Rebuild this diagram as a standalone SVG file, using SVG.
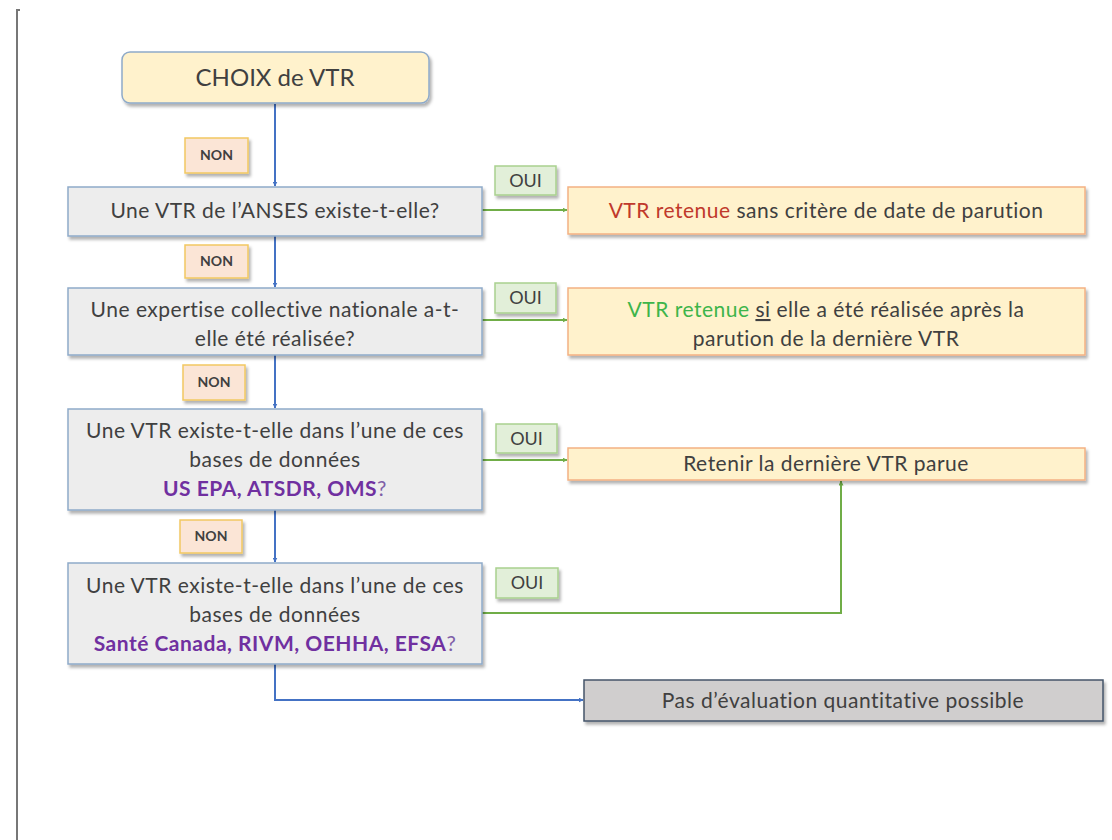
<svg xmlns="http://www.w3.org/2000/svg" width="1112" height="840" viewBox="0 0 1112 840">
<defs>
<filter id="sh" x="-5%" y="-10%" width="115%" height="140%">
<feDropShadow dx="2" dy="3" stdDeviation="1.5" flood-color="#000" flood-opacity="0.3"/>
</filter>
<marker id="ab" viewBox="0 0 10 10" refX="9" refY="5" markerWidth="5" markerHeight="5" orient="auto" markerUnits="userSpaceOnUse"><path d="M0,0 L10,5 L0,10 z" fill="#4472C4"/></marker>
<marker id="ag" viewBox="0 0 10 10" refX="9" refY="5" markerWidth="5" markerHeight="5" orient="auto" markerUnits="userSpaceOnUse"><path d="M0,0 L10,5 L0,10 z" fill="#70AD47"/></marker>
<style>
text{font-family:Lato,"Liberation Sans",sans-serif;fill:#404040;text-anchor:middle}
.q{fill:#EDEDED;stroke:#8EAAC9;stroke-width:1.5;filter:url(#sh)}
.r{fill:#FFF2CC;stroke:#F4B183;stroke-width:1.5;filter:url(#sh)}
.non{fill:#FBE5D6;stroke:#F2C861;stroke-width:1.5;filter:url(#sh)}
.oui{fill:#E2EFD9;stroke:#A9D18E;stroke-width:1.5;filter:url(#sh)}
.t{font-size:21px;letter-spacing:0.5px}
.lab{font-size:14px;font-weight:bold}
.ouit{font-size:18px}
.p{fill:#7030A0;font-weight:bold}
.pq{fill:#7F5FA8}
.blue{stroke:#4472C4;stroke-width:2;fill:none}
.green{stroke:#70AD47;stroke-width:2;fill:none}
</style>
</defs>
<rect width="1112" height="840" fill="#fff"/>
<path d="M17,840 V10 H20" stroke="#777" stroke-width="2" fill="none"/>

<g id="connectors">
<line class="blue" x1="275" y1="104" x2="275" y2="186" marker-end="url(#ab)"/>
<line class="blue" x1="275" y1="236" x2="275" y2="287" marker-end="url(#ab)"/>
<line class="blue" x1="275" y1="355" x2="275" y2="408" marker-end="url(#ab)"/>
<line class="blue" x1="275" y1="510" x2="275" y2="562" marker-end="url(#ab)"/>
<path class="blue" d="M275,664 V700 H583" marker-end="url(#ab)"/>
<line class="green" x1="482" y1="210" x2="567" y2="210" marker-end="url(#ag)"/>
<line class="green" x1="482" y1="320" x2="567" y2="320" marker-end="url(#ag)"/>
<line class="green" x1="482" y1="460" x2="567" y2="460" marker-end="url(#ag)"/>
<path class="green" d="M482,613 H841 V481" marker-end="url(#ag)"/>
</g>

<g id="start">
<rect x="122" y="52" width="307" height="51" rx="8" fill="#FFF2CC" stroke="#8EAAC9" stroke-width="1.5" filter="url(#sh)"/>
<text x="275" y="86" style="font-size:24px">CHOIX de VTR</text>
</g>

<g id="non1"><rect class="non" x="185" y="138" width="63" height="35"/><text class="lab" x="216.5" y="160">NON</text></g>
<g id="non2"><rect class="non" x="185" y="245" width="63" height="33"/><text class="lab" x="216.5" y="266">NON</text></g>
<g id="non3"><rect class="non" x="183" y="365" width="62" height="35"/><text class="lab" x="214" y="387">NON</text></g>
<g id="non4"><rect class="non" x="180" y="520" width="62" height="33"/><text class="lab" x="211" y="541">NON</text></g>

<g id="oui1"><rect class="oui" x="495" y="166" width="61" height="29"/><text class="ouit" x="525.5" y="187">OUI</text></g>
<g id="oui2"><rect class="oui" x="495" y="283" width="61" height="30"/><text class="ouit" x="525.5" y="304">OUI</text></g>
<g id="oui3"><rect class="oui" x="496" y="424" width="61" height="29"/><text class="ouit" x="526.5" y="445">OUI</text></g>
<g id="oui4"><rect class="oui" x="496" y="568" width="62" height="30"/><text class="ouit" x="527" y="589">OUI</text></g>

<g id="q1">
<rect class="q" x="68" y="187" width="414" height="49"/>
<text class="t" x="275" y="218">Une VTR de l’ANSES existe-t-elle?</text>
</g>
<g id="q2">
<rect class="q" x="68" y="288" width="414" height="67"/>
<text class="t" x="275" y="317">Une expertise collective nationale a-t-</text>
<text class="t" x="275" y="346">elle été réalisée?</text>
</g>
<g id="q3">
<rect class="q" x="68" y="409" width="414" height="101"/>
<text class="t" x="275" y="438">Une VTR existe-t-elle dans l’une de ces</text>
<text class="t" x="275" y="467">bases de données</text>
<text class="t" x="275" y="496"><tspan class="p">US EPA, ATSDR, OMS</tspan><tspan class="pq">?</tspan></text>
</g>
<g id="q4">
<rect class="q" x="68" y="563" width="414" height="101"/>
<text class="t" x="275" y="593">Une VTR existe-t-elle dans l’une de ces</text>
<text class="t" x="275" y="622">bases de données</text>
<text class="t" x="275" y="651"><tspan class="p">Santé Canada, RIVM, OEHHA, EFSA</tspan><tspan class="pq">?</tspan></text>
</g>

<g id="r1">
<rect class="r" x="568" y="187" width="517" height="47"/>
<text class="t" x="826" y="218"><tspan style="fill:#C0392B">VTR retenue</tspan> sans critère de date de parution</text>
</g>
<g id="r2">
<rect class="r" x="568" y="288" width="517" height="67"/>
<text class="t" x="826" y="317"><tspan style="fill:#3DB54A">VTR retenue</tspan> <tspan text-decoration="underline">si</tspan> elle a été réalisée après la</text>
<text class="t" x="826" y="346">parution de la dernière VTR</text>
</g>
<g id="r3">
<rect class="r" x="568" y="448" width="517" height="32"/>
<text class="t" x="826" y="471">Retenir la dernière VTR parue</text>
</g>
<g id="end">
<rect x="584" y="680" width="519" height="41" fill="#D0CECE" stroke="#44546A" stroke-width="1.5" filter="url(#sh)"/>
<text class="t" x="843" y="708">Pas d’évaluation quantitative possible</text>
</g>
</svg>
